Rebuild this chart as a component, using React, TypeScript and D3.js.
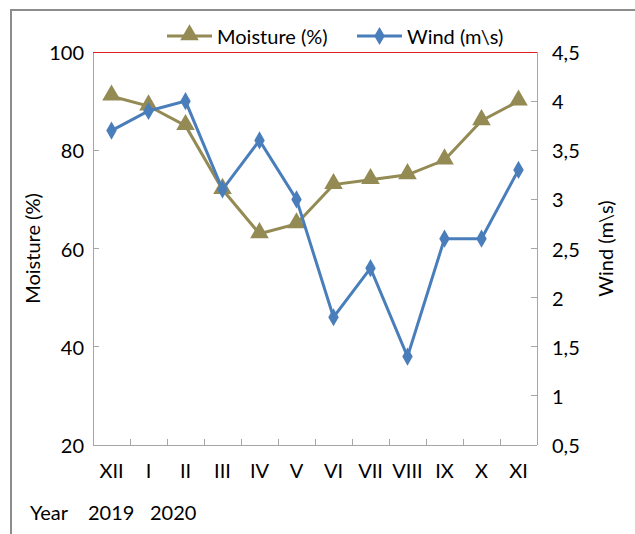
import React, { useRef, useEffect } from "react";
import * as d3 from "d3";

const months = ["XII", "I", "II", "III", "IV", "V", "VI", "VII", "VIII", "IX", "X", "XI"];
const moisture = [91, 89, 85, 72, 63, 65, 73, 74, 75, 78, 86, 90];
const wind = [3.7, 3.9, 4.0, 3.1, 3.6, 3.0, 1.8, 2.3, 1.4, 2.6, 2.6, 3.3];
const leftTicks = [20, 40, 60, 80, 100];
const rightTicks = [0.5, 1, 1.5, 2, 2.5, 3, 3.5, 4, 4.5];
const yearLabels = ["Year", "2019", "2020"];

const OLIVE = "#948a54";
const BLUE = "#4a7ebb";
const AXIS = "#a6a6a6";
const FONT = "Lato, 'Open Sans', sans-serif";
const FS = 20;

export default function App() {
  const svgRef = useRef<SVGSVGElement>(null);

  useEffect(() => {
    const svg = d3.select(svgRef.current);
    svg.selectAll("*").remove();

    const width = 635;
    const height = 534;
    const margin = { top: 52, right: 98, bottom: 89, left: 93 };
    const innerW = width - margin.left - margin.right;
    const innerH = height - margin.top - margin.bottom;

    // outer chart border
    svg.append("rect")
      .attr("x", 11).attr("y", 10)
      .attr("width", 660).attr("height", 560)
      .attr("fill", "white")
      .attr("stroke", "#8c8c8c")
      .attr("stroke-width", 2);

    const g = svg.append("g").attr("transform", `translate(${margin.left},${margin.top})`);

    const x = d3.scaleBand().domain(months).range([0, innerW]);
    const yL = d3.scaleLinear().domain([20, 100]).range([innerH, 0]);
    const yR = d3.scaleLinear().domain([0.5, 4.5]).range([innerH, 0]);

    // axes lines (crisp, like the original)
    const axes = g.append("g").attr("shape-rendering", "crispEdges");
    axes.append("line").attr("x1", 0).attr("x2", 0).attr("y1", 0).attr("y2", innerH).attr("stroke", AXIS);
    axes.append("line").attr("x1", innerW).attr("x2", innerW).attr("y1", 0).attr("y2", innerH).attr("stroke", AXIS);
    axes.append("line").attr("x1", 0).attr("x2", innerW).attr("y1", innerH).attr("y2", innerH).attr("stroke", AXIS);
    axes.append("line").attr("x1", 0).attr("x2", innerW).attr("y1", 0).attr("y2", 0).attr("stroke", "#e02020");

    const txt = (sel: any) =>
      sel.attr("font-family", FONT).attr("font-size", FS).attr("fill", "#000");

    // left ticks
    leftTicks.forEach((t) => {
      if (t !== 20 && t !== 100) {
        axes.append("line").attr("x1", 0).attr("x2", 6).attr("y1", yL(t)).attr("y2", yL(t)).attr("stroke", AXIS);
      }
      txt(g.append("text")
        .attr("x", -9).attr("y", yL(t))
        .attr("text-anchor", "end").attr("dominant-baseline", "central"))
        .text(String(t));
    });

    // right ticks
    rightTicks.forEach((t) => {
      if (t !== 0.5 && t !== 4.5) {
        axes.append("line").attr("x1", innerW - 6).attr("x2", innerW).attr("y1", yR(t)).attr("y2", yR(t)).attr("stroke", AXIS);
      }
      txt(g.append("text")
        .attr("x", innerW + 15).attr("y", yR(t))
        .attr("text-anchor", "start").attr("dominant-baseline", "central"))
        .text(String(t).replace(".", ","));
    });

    // category ticks
    months.forEach((m, i) => {
      if (i > 0) {
        const xx = x(m)!;
        axes.append("line").attr("x1", xx).attr("x2", xx).attr("y1", innerH).attr("y2", innerH - 6).attr("stroke", AXIS);
      }
      txt(g.append("text")
        .attr("x", x(m)! + x.bandwidth() / 2).attr("y", innerH + 25)
        .attr("text-anchor", "middle").attr("dominant-baseline", "central"))
        .text(m);
    });

    // year row
    const yearX = [30, 88, 150];
    yearLabels.forEach((t, i) => {
      txt(svg.append("text")
        .attr("x", yearX[i]).attr("y", 512)
        .attr("dominant-baseline", "central"))
        .text(t);
    });

    // axis titles
    txt(svg.append("text")
      .attr("transform", `translate(32,${margin.top + innerH / 2}) rotate(-90)`)
      .attr("text-anchor", "middle").attr("dominant-baseline", "central"))
      .text("Moisture (%)");
    txt(svg.append("text")
      .attr("transform", `translate(605,${margin.top + innerH / 2}) rotate(-90)`)
      .attr("text-anchor", "middle").attr("dominant-baseline", "central"))
      .text("Wind (m\\s)");

    const cx = (i: number) => x(months[i])! + x.bandwidth() / 2;
    const tri = d3.symbol().type(d3.symbolTriangle).size(150);
    const dia = d3.symbol().type(d3.symbolDiamond).size(95);

    // moisture series
    g.append("path")
      .datum(moisture)
      .attr("fill", "none").attr("stroke", OLIVE).attr("stroke-width", 3)
      .attr("d", d3.line<number>().x((_, i) => cx(i)).y((d) => yL(d)));
    g.selectAll(".tri").data(moisture).enter().append("path")
      .attr("transform", (d, i) => `translate(${cx(i)},${yL(d) - 1})`)
      .attr("d", tri()!).attr("fill", OLIVE);

    // wind series
    g.append("path")
      .datum(wind)
      .attr("fill", "none").attr("stroke", BLUE).attr("stroke-width", 3)
      .attr("d", d3.line<number>().x((_, i) => cx(i)).y((d) => yR(d)));
    g.selectAll(".dia").data(wind).enter().append("path")
      .attr("transform", (d, i) => `translate(${cx(i)},${yR(d)})`)
      .attr("d", dia()!).attr("fill", BLUE);

    // legend
    const legend = svg.append("g").attr("transform", "translate(0,36)");
    const items = [
      { label: "Moisture (%)", color: OLIVE, sym: tri, x0: 167 },
      { label: "Wind (m\\s)", color: BLUE, sym: dia, x0: 357 },
    ];
    items.forEach((it) => {
      legend.append("line").attr("x1", it.x0).attr("x2", it.x0 + 45).attr("y1", 0).attr("y2", 0)
        .attr("stroke", it.color).attr("stroke-width", 3);
      legend.append("path").attr("transform", `translate(${it.x0 + 22.5},${it.sym === tri ? -1 : 0})`)
        .attr("d", it.sym()!).attr("fill", it.color);
      txt(legend.append("text")
        .attr("x", it.x0 + 50).attr("y", 0).attr("dominant-baseline", "central"))
        .text(it.label);
    });
  }, []);

  return (
    <svg
      ref={svgRef}
      width={635}
      height={534}
      style={{ position: "absolute", left: 0, top: 0, background: "white" }}
    />
  );
}
